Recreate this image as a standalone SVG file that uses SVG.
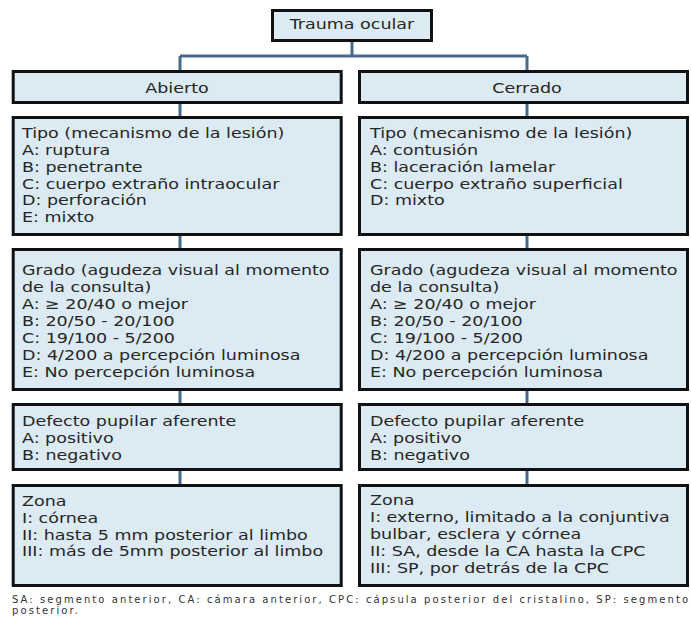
<svg xmlns="http://www.w3.org/2000/svg" width="691" height="619" viewBox="0 0 691 619">
<style>
.box{fill:#dbeaf3;stroke:#111;stroke-width:3}
.t{font-family:"DejaVu Sans",Verdana,sans-serif;font-size:14px;fill:#262626}
.c{text-anchor:middle}
.con{fill:none;stroke:#456a8c;stroke-width:3}
.fn{font-family:"DejaVu Sans",Verdana,sans-serif;font-size:10px;fill:#333}
</style>
<rect width="691" height="619" fill="#fff"/>
<g id="connectors">
<path class="con" d="M352,42V56M180,56H527M180,56V70M527,56V70"/>
<path class="con" d="M180,104V116M180,236V248M180,391V403M180,471V484"/>
<path class="con" d="M527,104V116M527,236V248M527,391V403M527,471V484"/>
</g>
<g id="trauma">
<rect class="box" x="272.5" y="10.5" width="159" height="30"/>
<text class="t c" transform="matrix(1.25 0 0 1 352 0)"><tspan x="0" y="29.5">Trauma ocular</tspan></text>
</g>
<g id="abierto">
<rect class="box" x="13.2" y="71.5" width="328" height="31"/>
<text class="t c" transform="matrix(1.25 0 0 1 177 0)"><tspan x="0" y="93">Abierto</tspan></text>
</g>
<g id="cerrado">
<rect class="box" x="359.5" y="71.5" width="328" height="31"/>
<text class="t c" transform="matrix(1.25 0 0 1 527 0)"><tspan x="0" y="93">Cerrado</tspan></text>
</g>
<g id="tipo-abierto">
<rect class="box" x="13.2" y="117.5" width="328" height="117"/>
<text class="t" transform="matrix(1.25 0 0 1 22 0)"><tspan x="0" y="138">Tipo (mecanismo de la lesión)</tspan><tspan x="0" y="155">A: ruptura</tspan><tspan x="0" y="171.8">B: penetrante</tspan><tspan x="0" y="188.6">C: cuerpo extraño intraocular</tspan><tspan x="0" y="205.4">D: perforación</tspan><tspan x="0" y="222.2">E: mixto</tspan></text>
</g>
<g id="tipo-cerrado">
<rect class="box" x="359.5" y="117.5" width="328" height="117"/>
<text class="t" transform="matrix(1.25 0 0 1 370 0)"><tspan x="0" y="138">Tipo (mecanismo de la lesión)</tspan><tspan x="0" y="155">A: contusión</tspan><tspan x="0" y="171.8">B: laceración lamelar</tspan><tspan x="0" y="188.6">C: cuerpo extraño superficial</tspan><tspan x="0" y="205.4">D: mixto</tspan></text>
</g>
<g id="grado-abierto">
<rect class="box" x="13.2" y="249.5" width="328" height="140"/>
<text class="t" transform="matrix(1.25 0 0 1 22 0)"><tspan x="0" y="275.5">Grado (agudeza visual al momento</tspan><tspan x="0" y="292.4">de la consulta)</tspan><tspan x="0" y="309.3">A: ≥ 20/40 o mejor</tspan><tspan x="0" y="326.2">B: 20/50 - 20/100</tspan><tspan x="0" y="343.1">C: 19/100 - 5/200</tspan><tspan x="0" y="360">D: 4/200 a percepción luminosa</tspan><tspan x="0" y="376.9">E: No percepción luminosa</tspan></text>
</g>
<g id="grado-cerrado">
<rect class="box" x="359.5" y="249.5" width="328" height="140"/>
<text class="t" transform="matrix(1.25 0 0 1 370 0)"><tspan x="0" y="275.5">Grado (agudeza visual al momento</tspan><tspan x="0" y="292.4">de la consulta)</tspan><tspan x="0" y="309.3">A: ≥ 20/40 o mejor</tspan><tspan x="0" y="326.2">B: 20/50 - 20/100</tspan><tspan x="0" y="343.1">C: 19/100 - 5/200</tspan><tspan x="0" y="360">D: 4/200 a percepción luminosa</tspan><tspan x="0" y="376.9">E: No percepción luminosa</tspan></text>
</g>
<g id="defecto-abierto">
<rect class="box" x="13.2" y="404.5" width="328" height="65"/>
<text class="t" transform="matrix(1.25 0 0 1 22 0)"><tspan x="0" y="426.5">Defecto pupilar aferente</tspan><tspan x="0" y="443.3">A: positivo</tspan><tspan x="0" y="460.1">B: negativo</tspan></text>
</g>
<g id="defecto-cerrado">
<rect class="box" x="359.5" y="404.5" width="328" height="65"/>
<text class="t" transform="matrix(1.25 0 0 1 370 0)"><tspan x="0" y="426.5">Defecto pupilar aferente</tspan><tspan x="0" y="443.3">A: positivo</tspan><tspan x="0" y="460.1">B: negativo</tspan></text>
</g>
<g id="zona-abierto">
<rect class="box" x="13.2" y="485.5" width="328" height="100"/>
<text class="t" transform="matrix(1.25 0 0 1 22 0)"><tspan x="0" y="506">Zona</tspan><tspan x="0" y="522.8">I: córnea</tspan><tspan x="0" y="539.6">II: hasta 5 mm posterior al limbo</tspan><tspan x="0" y="556.4">III: más de 5mm posterior al limbo</tspan></text>
</g>
<g id="zona-cerrado">
<rect class="box" x="359.5" y="485.5" width="328" height="100"/>
<text class="t" transform="matrix(1.25 0 0 1 370 0)"><tspan x="0" y="505.5">Zona</tspan><tspan x="0" y="522.3">I: externo, limitado a la conjuntiva</tspan><tspan x="0" y="539.1">bulbar, esclera y córnea</tspan><tspan x="0" y="555.9">II: SA, desde la CA hasta la CPC</tspan><tspan x="0" y="572.7">III: SP, por detrás de la CPC</tspan></text>
</g>
<g id="footnote">
<text class="fn" x="12" y="603" textLength="676" lengthAdjust="spacing">SA: segmento anterior, CA: cámara anterior, CPC: cápsula posterior del cristalino, SP: segmento</text>
<text class="fn" x="12" y="614" textLength="66" lengthAdjust="spacing">posterior.</text>
</g>
</svg>
